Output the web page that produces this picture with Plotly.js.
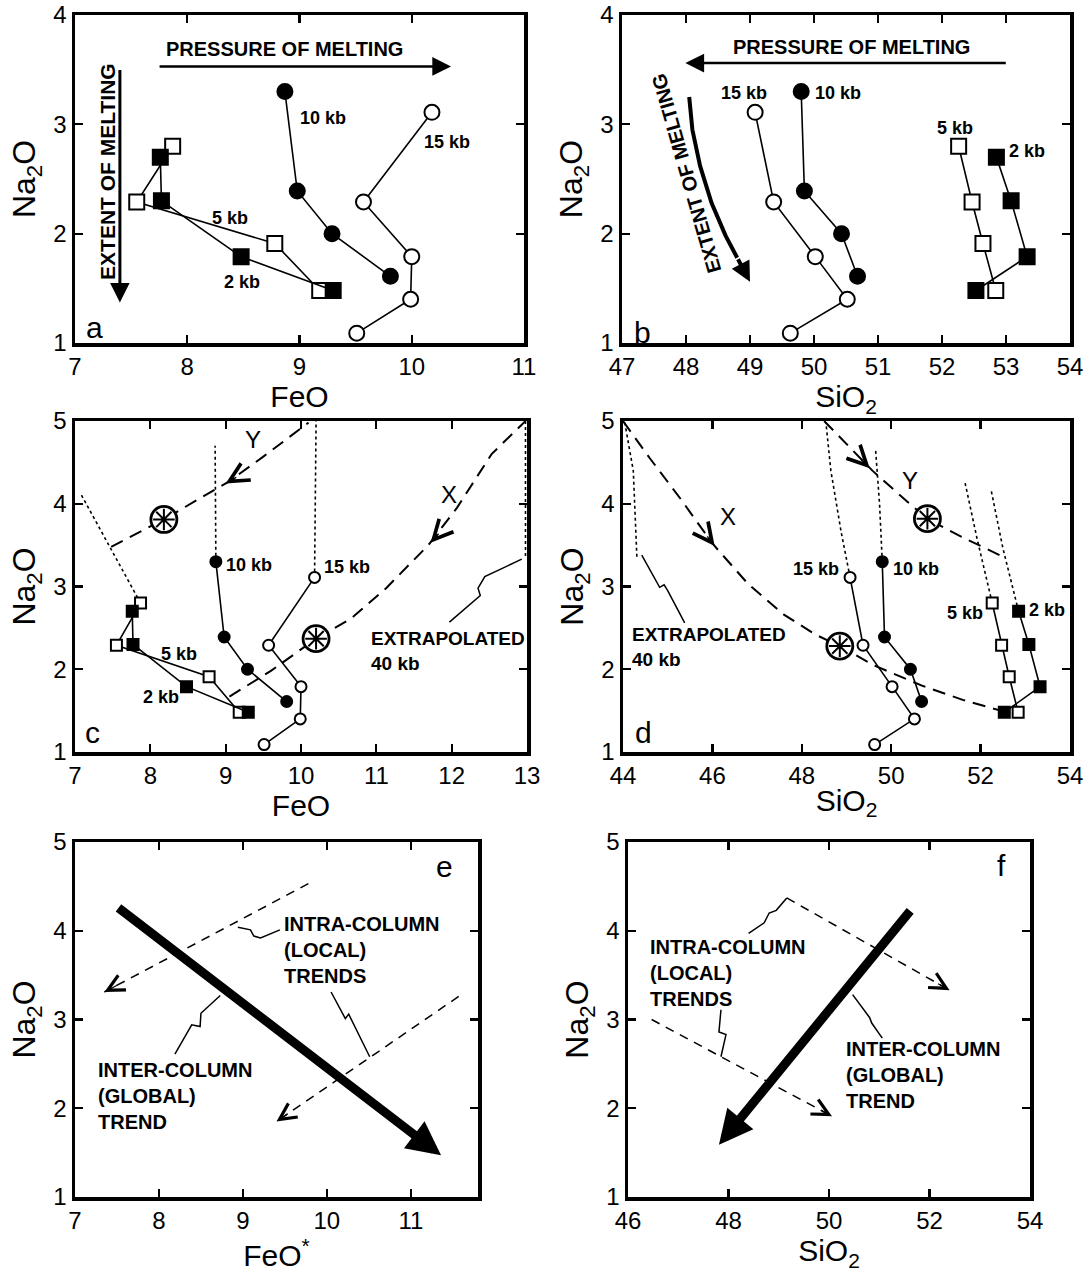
<!DOCTYPE html>
<html><head><meta charset="utf-8">
<script src="https://cdn.plot.ly/plotly-3.0.1.min.js"></script>
<style>html,body{margin:0;padding:0;background:#fff}#chart{width:1088px;height:1272px}</style>
</head><body><div id="chart"></div>
<script>
// ---------------- data ----------------
const na2o_2kb  = [2.70, 2.30, 1.79, 1.48];
const na2o_5kb  = [2.80, 2.29, 1.91, 1.48];
const na2o_10kb = [3.30, 2.39, 2.00, 1.61];
const na2o_15kb = [3.11, 2.29, 1.79, 1.40, 1.09];
const feo_2kb  = [7.76, 7.77, 8.48, 9.30];
const feo_5kb  = [7.87, 7.55, 8.78, 9.18];
const feo_10kb = [8.87, 8.98, 9.29, 9.81];
const feo_15kb = [10.18, 9.57, 10.00, 9.99, 9.51];
const sio2_2kb  = [52.85, 53.08, 53.33, 52.53];
const sio2_5kb  = [52.26, 52.47, 52.64, 52.84];
const sio2_10kb = [49.80, 49.85, 50.43, 50.68];
const sio2_15kb = [49.08, 49.37, 50.02, 50.52, 49.63];

// panel c curves (FeO, Na2O)
const cY_feo = [7.48, 7.86, 8.18, 8.61, 9.03, 9.50, 10.10];
const cY_na  = [3.48, 3.66, 3.81, 4.04, 4.26, 4.57, 4.98];
const cX_feo = [9.05, 9.60, 10.20, 10.66, 11.13, 11.69, 12.07, 12.53, 12.98];
const cX_na  = [1.67, 1.98, 2.37, 2.61, 2.98, 3.50, 3.95, 4.60, 5.00];
const cDot10_feo = [8.87, 8.86], cDot10_na = [3.30, 4.70];
const cDot15_feo = [10.18, 10.20], cDot15_na = [3.11, 5.00];
const cDot5_feo  = [7.87, 7.07], cDot5_na  = [2.80, 4.13];
const cDot40_feo = [12.98, 12.98], cDot40_na = [5.00, 3.34];
const cLead_feo = [12.93, 12.44, 12.35, 12.38, 11.97];
const cLead_na  = [3.33, 3.12, 2.98, 2.89, 2.57];
const cStar_feo = [8.18, 10.20], cStar_na = [3.81, 2.37];
const cYarrow = [[9.00, 4.245], [9.16, 4.33]];   // [head, tail]
const cXarrow = [[11.72, 3.53], [11.845, 3.655]];

// panel d curves (SiO2, Na2O)
const dX_si = [44.0, 44.6, 45.3, 46.0, 46.8, 47.6, 48.3, 48.85, 49.6, 50.7, 51.6, 52.45];
const dX_na = [5.00, 4.55, 4.05, 3.52, 3.03, 2.66, 2.42, 2.28, 2.05, 1.80, 1.63, 1.50];
const dY_si = [48.50, 49.19, 49.58, 50.35, 50.81, 51.50, 51.96, 52.50];
const dY_na = [5.00, 4.61, 4.40, 4.03, 3.82, 3.62, 3.50, 3.36];
const dDot15_si = [49.08, 48.88, 48.65, 48.54], dDot15_na = [3.11, 3.66, 4.40, 4.98];
const dDot10_si = [49.80, 49.74, 49.65], dDot10_na = [3.30, 3.99, 4.66];
const dDot5_si  = [52.26, 51.92, 51.65], dDot5_na  = [2.80, 3.58, 4.26];
const dDot2_si  = [52.85, 52.50, 52.23], dDot2_na  = [2.70, 3.46, 4.18];
const dDot40_si = [44.31, 44.23, 44.04], dDot40_na = [3.36, 4.40, 4.98];
const dLead_si = [44.42, 44.73, 44.82, 44.92, 45.00, 45.38];
const dLead_na = [3.38, 3.09, 2.99, 3.02, 2.95, 2.56];
const dStar_si = [48.85, 50.81], dStar_na = [2.28, 3.82];
const dXarrow = [[46.05, 3.49], [45.86, 3.624]];
const dYarrow = [[49.52, 4.43], [49.30, 4.55]];

// panel b curved "extent of melting" arrow
const bExt_si = [48.05, 48.10, 48.22, 48.40, 48.62, 48.80];
const bExt_na = [3.25, 2.95, 2.62, 2.28, 1.98, 1.78];
const bExt_head = [49.00, 1.56];

// panel e schematic (FeO*, Na2O)
const eGlobal_tail = [7.50, 4.27], eGlobal_head = [11.36, 1.47];
const eLocal1_feo = [9.78, 7.35], eLocal1_na = [4.53, 3.31];
const eLocal2_feo = [11.57, 9.40], eLocal2_na = [3.26, 1.85];
const eLead1_feo = [9.44, 9.21, 9.13, 9.09, 8.94], eLead1_na = [4.01, 3.92, 3.94, 4.01, 4.04];
const eLead2_feo = [10.05, 10.22, 10.26, 10.51], eLead2_na = [3.31, 3.01, 3.06, 2.58];
const eLead3_feo = [8.73, 8.50, 8.49, 8.39, 8.19], eLead3_na = [3.27, 3.07, 2.92, 2.94, 2.61];

// panel f schematic (SiO2, Na2O)
const fGlobal_tail = [51.64, 4.24], fGlobal_head = [47.81, 1.59];
const fLocal1_si = [49.16, 52.40], fLocal1_na = [4.37, 3.33];
const fLocal2_si = [46.47, 50.06], fLocal2_na = [3.00, 1.91];
const fLead1_si = [48.40, 48.71, 48.81, 48.95, 49.16], fLead1_na = [3.97, 4.09, 4.20, 4.23, 4.37];
const fLead2_si = [47.85, 47.81, 47.95, 47.85], fLead2_na = [3.11, 2.86, 2.83, 2.58];
const fLead3_si = [50.47, 50.81, 50.85, 51.06], fLead3_na = [3.28, 3.02, 2.96, 2.79];

// ---------------- layout helpers ----------------
const W = 1088, H = 1272;
const F = 'Liberation Sans, Arial, sans-serif';
function dx(l, r) { return [l / W, r / W]; }
function dy(t, b) { return [1 - b / H, 1 - t / H]; }
function axis(domain, range, dtick, anchor, title, side) {
  return {
    domain: domain, range: range, dtick: dtick, tick0: range[0], anchor: anchor,
    showline: true, linewidth: 3.5, linecolor: '#000', mirror: 'ticks',
    ticks: 'inside', ticklen: 8, tickwidth: 2.2, tickcolor: '#000',
    showgrid: false, zeroline: false, fixedrange: true,
    tickfont: {family: F, size: 24, color: '#000'},
    title: {text: title, font: {family: F, size: side === 'y' ? 32 : 30, color: '#000'}, standoff: side === 'y' ? 9 : 2}
  };
}
const NA = 'Na<sub>2</sub>O';
const layout = {
  width: W, height: H, margin: {l: 0, r: 0, t: 0, b: 0},
  paper_bgcolor: '#fff', plot_bgcolor: '#fff', showlegend: false,
  xaxis:  axis(dx(75, 524),  [7, 11],   1, 'y',  'FeO', 'x'),
  yaxis:  axis(dy(15, 343),  [1, 4],    1, 'x',  NA, 'y'),
  xaxis2: axis(dx(622, 1070), [47, 54], 1, 'y2', 'SiO<sub>2</sub>', 'x'),
  yaxis2: axis(dy(15, 343),  [1, 4],    1, 'x2', NA, 'y'),
  xaxis3: axis(dx(75, 527),  [7, 13],   1, 'y3', 'FeO', 'x'),
  yaxis3: axis(dy(421, 752), [1, 5],    1, 'x3', NA, 'y'),
  xaxis4: axis(dx(623, 1070), [44, 54], 2, 'y4', 'SiO<sub>2</sub>', 'x'),
  yaxis4: axis(dy(421, 752), [1, 5],    1, 'x4', NA, 'y'),
  xaxis5: axis(dx(75, 478),  [7, 11.8], 1, 'y5', 'FeO<sup>*</sup>', 'x'),
  yaxis5: axis(dy(842, 1197), [1, 5],   1, 'x5', NA, 'y'),
  xaxis6: axis(dx(628, 1030), [46, 54], 2, 'y6', 'SiO<sub>2</sub>', 'x'),
  yaxis6: axis(dy(842, 1197), [1, 5],   1, 'x6', NA, 'y'),
  annotations: []
};

const traces = [];
function refs(k) { return {xaxis: 'x' + k, yaxis: 'y' + k}; }
function line(k, xs, ys, width, dash) {
  traces.push(Object.assign({type: 'scatter', mode: 'lines', x: xs, y: ys,
    line: {color: '#000', width: width, dash: dash || 'solid'}, hoverinfo: 'skip'}, refs(k)));
}
function series(k, xs, ys, symbol, filled, size) {
  traces.push(Object.assign({type: 'scatter', mode: 'lines+markers', x: xs, y: ys,
    line: {color: '#000', width: 1.6},
    marker: {symbol: symbol, size: size, color: filled ? '#000' : '#fff', line: {color: '#000', width: 2}},
    hoverinfo: 'skip'}, refs(k)));
}
function stars(k, xs, ys) {
  traces.push(Object.assign({type: 'scatter', mode: 'markers', x: xs, y: ys,
    marker: {symbol: 'circle', size: 26, color: '#fff', line: {color: '#000', width: 2.8}}, hoverinfo: 'skip'}, refs(k)));
  traces.push(Object.assign({type: 'scatter', mode: 'markers', x: xs, y: ys,
    marker: {symbol: 'asterisk-open', size: 18, color: '#000', line: {color: '#000', width: 2}}, hoverinfo: 'skip'}, refs(k)));
}
const CAPS = {family: F, size: 20, color: '#000', weight: 'bold'};
function note(k, x, y, text, o) {
  layout.annotations.push(Object.assign({xref: 'x' + k, yref: 'y' + k, x: x, y: y, text: text,
    showarrow: false, font: {family: F, size: 18, color: '#000', weight: 'bold'}}, o || {}));
}
function caps(k, x, y, text, o) { note(k, x, y, text, Object.assign({font: CAPS}, o || {})); }
function arrow(k, head, tail, o) {
  layout.annotations.push(Object.assign({xref: 'x' + k, yref: 'y' + k, axref: 'x' + k, ayref: 'y' + k,
    x: head[0], y: head[1], ax: tail[0], ay: tail[1], text: '', showarrow: true,
    arrowcolor: '#000', arrowhead: 2, arrowwidth: 2.5, arrowsize: 1.5}, o || {}));
}
function lerp(a, b, t) { return [a[0] + (b[0] - a[0]) * t, a[1] + (b[1] - a[1]) * t]; }
const chevron = {arrowhead: 5, arrowwidth: 1.2, arrowsize: 2.7};
const chevronBig = {arrowhead: 5, arrowwidth: 1.4, arrowsize: 2.7};
function letter(k, x, y, t) { note(k, x, y, t, {font: {family: F, size: 30, color: '#000'}}); }
const BIG = {family: F, size: 24, color: '#000'};
const SMALLCAPS = {family: F, size: 19, color: '#000', weight: 'bold'};

// ---------------- panel a ----------------
series('', feo_15kb, na2o_15kb, 'circle', false, 15);
series('', feo_10kb, na2o_10kb, 'circle', true, 15);
series('', feo_5kb, na2o_5kb, 'square', false, 15);
series('', feo_2kb, na2o_2kb, 'square', true, 15);
arrow('', [10.35, 3.53], [7.74, 3.53]);
arrow('', [7.40, 1.37], [7.40, 3.51], {arrowwidth: 3, arrowsize: 1.3});
caps('', 8.87, 3.69, 'PRESSURE OF MELTING');
caps('', 7.29, 2.57, 'EXTENT OF MELTING', {textangle: -90, font: {family: F, size: 21, color: '#000', weight: 'bold'}});
note('', 8.99, 3.06, '10 kb', {xanchor: 'left'});
note('', 10.09, 2.84, '15 kb', {xanchor: 'left'});
note('', 8.38, 2.14, '5 kb');
note('', 8.49, 1.56, '2 kb');
letter('', 7.17, 1.14, 'a');

// ---------------- panel b ----------------
series('2', sio2_15kb, na2o_15kb, 'circle', false, 15);
series('2', sio2_10kb, na2o_10kb, 'circle', true, 15);
series('2', sio2_5kb, na2o_5kb, 'square', false, 15);
series('2', sio2_2kb, na2o_2kb, 'square', true, 15);
line('2', bExt_si, bExt_na, 4);
arrow('2', bExt_head, [bExt_si[5], bExt_na[5]], {arrowwidth: 4, arrowsize: 1.0});
arrow('2', [47.99, 3.56], [53.02, 3.56]);
caps('2', 50.58, 3.71, 'PRESSURE OF MELTING');
caps('2', 48.00, 2.55, 'EXTENT OF MELTING', {textangle: -106});
note('2', 49.30, 3.29, '15 kb', {xanchor: 'right'});
note('2', 49.98, 3.29, '10 kb', {xanchor: 'left'});
note('2', 52.21, 2.97, '5 kb');
note('2', 53.02, 2.76, '2 kb', {xanchor: 'left'});
letter('2', 47.32, 1.10, 'b');

// ---------------- panel c ----------------
line('3', cY_feo, cY_na, 2, '13px,8px');
line('3', cX_feo, cX_na, 2, '13px,8px');
line('3', cDot10_feo, cDot10_na, 1.6, '3px,3px');
line('3', cDot15_feo, cDot15_na, 1.6, '3px,3px');
line('3', cDot5_feo, cDot5_na, 1.6, '3px,3px');
line('3', cDot40_feo, cDot40_na, 1.6, '3px,3px');
line('3', cLead_feo, cLead_na, 1.5);
series('3', feo_15kb, na2o_15kb, 'circle', false, 11);
series('3', feo_10kb, na2o_10kb, 'circle', true, 11);
series('3', feo_5kb, na2o_5kb, 'square', false, 11);
series('3', feo_2kb, na2o_2kb, 'square', true, 11);
stars('3', cStar_feo, cStar_na);
arrow('3', cYarrow[0], cYarrow[1], chevronBig);
arrow('3', cXarrow[0], cXarrow[1], chevronBig);
note('3', 8.98, 3.26, '10 kb', {xanchor: 'left'});
note('3', 10.28, 3.24, '15 kb', {xanchor: 'left'});
note('3', 8.38, 2.18, '5 kb');
note('3', 8.14, 1.67, '2 kb');
note('3', 9.36, 4.78, 'Y', {font: BIG});
note('3', 11.97, 4.11, 'X', {font: BIG});
caps('3', 10.90, 2.22, 'EXTRAPOLATED<br>40 kb', {xanchor: 'left', align: 'left', font: SMALLCAPS});
letter('3', 7.23, 1.23, 'c');

// ---------------- panel d ----------------
line('4', dX_si, dX_na, 2, '13px,8px');
line('4', dY_si, dY_na, 2, '13px,8px');
line('4', dDot15_si, dDot15_na, 1.6, '3px,3px');
line('4', dDot10_si, dDot10_na, 1.6, '3px,3px');
line('4', dDot5_si, dDot5_na, 1.6, '3px,3px');
line('4', dDot2_si, dDot2_na, 1.6, '3px,3px');
line('4', dDot40_si, dDot40_na, 1.6, '3px,3px');
line('4', dLead_si, dLead_na, 1.5);
series('4', sio2_15kb, na2o_15kb, 'circle', false, 11);
series('4', sio2_10kb, na2o_10kb, 'circle', true, 11);
series('4', sio2_5kb, na2o_5kb, 'square', false, 11);
series('4', sio2_2kb, na2o_2kb, 'square', true, 11);
stars('4', dStar_si, dStar_na);
arrow('4', dXarrow[0], dXarrow[1], chevronBig);
arrow('4', dYarrow[0], dYarrow[1], chevronBig);
note('4', 48.88, 3.21, '15 kb', {xanchor: 'right'});
note('4', 50.00, 3.21, '10 kb', {xanchor: 'left'});
note('4', 52.10, 2.68, '5 kb', {xanchor: 'right'});
note('4', 53.04, 2.72, '2 kb', {xanchor: 'left'});
note('4', 46.35, 3.85, 'X', {font: BIG});
note('4', 50.42, 4.28, 'Y', {font: BIG});
caps('4', 44.15, 2.27, 'EXTRAPOLATED<br>40 kb', {xanchor: 'left', align: 'left', font: SMALLCAPS});
letter('4', 44.46, 1.23, 'd');

// ---------------- panel e ----------------
line('5', eLocal1_feo, eLocal1_na, 1.5, '9px,7px');
line('5', eLocal2_feo, eLocal2_na, 1.5, '9px,7px');
line('5', eLead1_feo, eLead1_na, 1.5);
line('5', eLead2_feo, eLead2_na, 1.5);
line('5', eLead3_feo, eLead3_na, 1.5);
arrow('5', eGlobal_head, eGlobal_tail, {arrowwidth: 9, arrowsize: 0.75});
arrow('5', [eLocal1_feo[1], eLocal1_na[1]], lerp([eLocal1_feo[1], eLocal1_na[1]], [eLocal1_feo[0], eLocal1_na[0]], 0.07), chevron);
arrow('5', [eLocal2_feo[1], eLocal2_na[1]], lerp([eLocal2_feo[1], eLocal2_na[1]], [eLocal2_feo[0], eLocal2_na[0]], 0.07), chevron);
caps('5', 9.46, 3.78, 'INTRA-COLUMN<br>(LOCAL)<br>TRENDS', {xanchor: 'left', align: 'left'});
caps('5', 7.25, 2.14, 'INTER-COLUMN<br>(GLOBAL)<br>TREND', {xanchor: 'left', align: 'left'});
letter('5', 11.40, 4.72, 'e');

// ---------------- panel f ----------------
line('6', fLocal1_si, fLocal1_na, 1.5, '9px,7px');
line('6', fLocal2_si, fLocal2_na, 1.5, '9px,7px');
line('6', fLead1_si, fLead1_na, 1.5);
line('6', fLead2_si, fLead2_na, 1.5);
line('6', fLead3_si, fLead3_na, 1.5);
arrow('6', fGlobal_head, fGlobal_tail, {arrowwidth: 9, arrowsize: 0.75});
arrow('6', [fLocal1_si[1], fLocal1_na[1]], lerp([fLocal1_si[1], fLocal1_na[1]], [fLocal1_si[0], fLocal1_na[0]], 0.08), chevron);
arrow('6', [fLocal2_si[1], fLocal2_na[1]], lerp([fLocal2_si[1], fLocal2_na[1]], [fLocal2_si[0], fLocal2_na[0]], 0.07), chevron);
caps('6', 46.40, 3.52, 'INTRA-COLUMN<br>(LOCAL)<br>TRENDS', {xanchor: 'left', align: 'left'});
caps('6', 50.30, 2.38, 'INTER-COLUMN<br>(GLOBAL)<br>TREND', {xanchor: 'left', align: 'left'});
letter('6', 53.43, 4.74, 'f');

Plotly.newPlot('chart', traces, layout, {displayModeBar: false, staticPlot: true});
</script></body></html>
